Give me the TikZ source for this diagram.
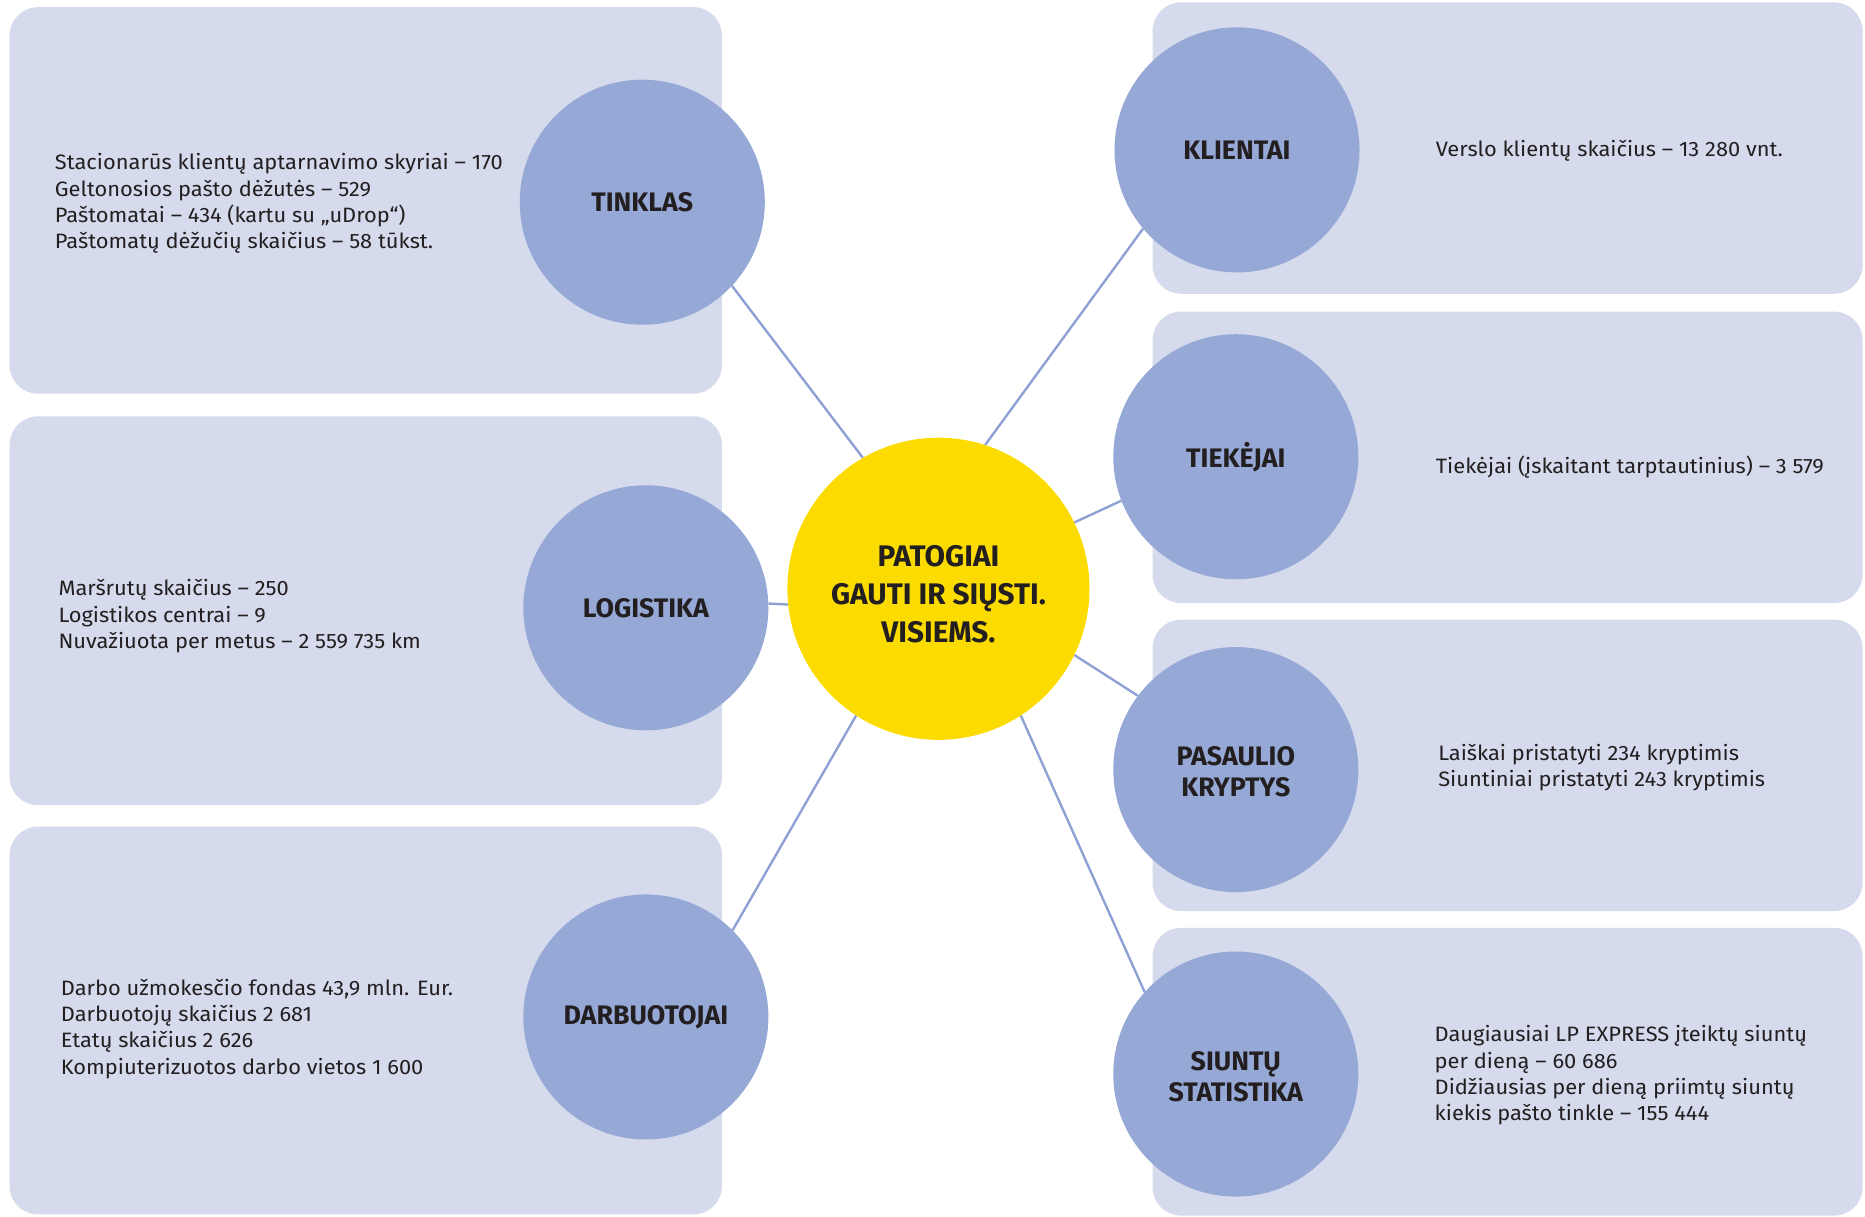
\documentclass[tikz,border=0pt]{standalone}
\usepackage{fontspec}
\setmainfont{Fira Sans}
\newfontfamily\bodyfont[FakeStretch=1.05]{Fira Sans}
\definecolor{boxfill}{HTML}{D5DAEC}
\definecolor{circfill}{HTML}{96A8D6}
\definecolor{linec}{HTML}{8EA0D4}
\definecolor{yel}{HTML}{FCDC00}
\definecolor{txt}{HTML}{231F20}
\tikzset{
  infobox/.style={fill=boxfill, draw=none, rounded corners=24pt},
  topic/.style={circle, fill=circfill, minimum size=206pt, inner sep=0pt, align=center, text=txt, font=\fontsize{22.5}{26}\selectfont\bfseries},
  hub/.style={circle, fill=yel, minimum size=254pt, inner sep=0pt, align=center, text=txt, font=\fontsize{25}{32}\selectfont\bfseries},
  info/.style={anchor=west, inner sep=0pt, align=left, text=txt, font=\bodyfont\fontsize{17.5}{22}\selectfont},
  link/.style={draw=linec, line width=2pt}
}
\begin{document}
\begin{tikzpicture}[x=1pt,y=-1pt]
\useasboundingbox (0,0) rectangle (1568,1023);
% boxes
\fill[infobox] (8,6) rectangle (607,331);
\fill[infobox] (8,350) rectangle (607,677);
\fill[infobox] (8,695) rectangle (607,1021);
\fill[infobox] (969,2) rectangle (1566,247);
\fill[infobox] (969,262) rectangle (1566,507);
\fill[infobox] (969,521) rectangle (1566,766);
\fill[infobox] (969,780) rectangle (1566,1022);
% circles
\node[hub] (c) at (789,495) {\rule{0pt}{27pt}PATOGIAI\\GAUTI IR SIŲSTI.\\VISIEMS.};
\node[topic] (t) at (540,170) {TINKLAS};
\node[topic] (l) at (543,511) {LOGISTIKA};
\node[topic] (d) at (543,855) {DARBUOTOJAI};
\node[topic] (k) at (1040,126) {KLIENTAI};
\node[topic] (ti) at (1039,384) {TIEKĖJAI};
\node[topic] (p) at (1039,647) {\rule{0pt}{20pt}PASAULIO\\KRYPTYS};
\node[topic] (s) at (1039,903) {\rule{0pt}{20pt}SIUNTŲ\\STATISTIKA};
% connectors
\draw[link] (c.120.6) -- (t.-43);
\draw[link] (c.186) -- (l.2);
\draw[link] (c.237.4) -- (d.45);
\draw[link] (c.72.7) -- (k.220.2);
\draw[link] (c.26.6) -- (ti.201);
\draw[link] (c.-26.2) -- (p.143.7);
\draw[link] (c.-57.7) -- (s.138);
% texts
\node[info] (tt) at (46,171) {Stacionarūs klientų aptarnavimo skyriai – 170\\Geltonosios pašto dėžutės – 529\\Paštomatai – 434 (kartu su „uDrop“)\\Paštomatų dėžučių skaičius – 58 tūkst.};
\node[info] (lt) at (49,518) {Maršrutų skaičius – 250\\Logistikos centrai – 9\\Nuvažiuota per metus – 2 559 735 km};
\node[info] (dt) at (51,865) {Darbo užmokesčio fondas 43,9 mln. Eur.\\Darbuotojų skaičius 2 681\\Etatų skaičius 2 626\\Kompiuterizuotos darbo vietos 1 600};
\node[info] (kt) at (1207,127) {Verslo klientų skaičius – 13 280 vnt.};
\node[info] (tit) at (1207,393) {Tiekėjai (įskaitant tarptautinius) – 3 579};
\node[info] (pt) at (1209,645) {Laiškai pristatyti 234 kryptimis\\Siuntiniai pristatyti 243 kryptimis};
\node[info] (st) at (1206,904) {Daugiausiai LP EXPRESS įteiktų siuntų\\per dieną – 60 686\\Didžiausias per dieną priimtų siuntų\\kiekis pašto tinkle – 155 444};
\end{tikzpicture}
\end{document}
